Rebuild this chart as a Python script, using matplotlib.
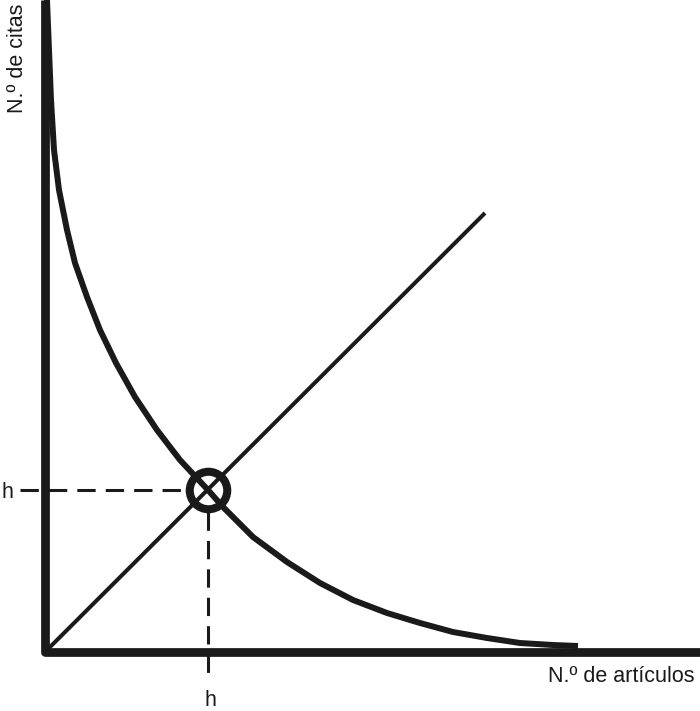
import matplotlib
matplotlib.use("Agg")
import matplotlib.pyplot as plt

plt.rcParams['font.family'] = ['Liberation Sans', 'DejaVu Sans']

# Decaying curve (citations per article, ranked)
curve_x = [2, 4, 6, 9, 14, 22, 30, 42, 55, 71, 90, 112, 135, 163, 178, 208,
           242, 275, 308, 342, 375, 408, 442, 475, 508, 533]
curve_y = [652, 602, 552, 502, 462, 422, 389, 355, 322, 289, 255, 222, 192, 162, 145, 115,
           90, 69, 52, 39, 29, 20, 14, 9, 7, 6]

# Diagonal line (citations = article rank)
diag_x = [0, 440]
diag_y = [0, 439]

# h-index point
h_x = 163
h_y = 162

x_max = 655
y_max = 652

fig = plt.figure(figsize=(7.0, 7.11), dpi=100)
ax = fig.add_axes([0, 0, 1, 1])
ax.set_xlim(-45, 655)
ax.set_ylim(-59, 652)
ax.axis('off')

ink = '#1a1a1a'

# Axes (L-shape)
ax.plot([0, 0, x_max], [y_max, 0, 0], color=ink, lw=6.3,
        solid_joinstyle='round', solid_capstyle='butt', zorder=3)

# Curve
ax.plot(curve_x, curve_y, color=ink, lw=4.3, solid_capstyle='butt',
        solid_joinstyle='round', zorder=2)

# Diagonal
ax.plot(diag_x, diag_y, color=ink, lw=2.9, solid_capstyle='butt', zorder=2)

# Dashed guide lines
ax.plot([-25, h_x - 22], [h_y, h_y], color=ink, lw=2.2,
        dashes=(6, 3.3), zorder=1)
ax.plot([h_x, h_x], [h_y - 22, -28], color=ink, lw=2.2,
        dashes=(6, 3.3), zorder=1)

# Circle marker
ax.plot([h_x], [h_y], marker='o', markersize=27, markerfacecolor='none',
        markeredgecolor=ink, markeredgewidth=5.8, zorder=4)

# Labels
fs = 15.5
ax.text(-43, h_y - 2, 'h', fontsize=fs, ha='left', va='center', color=ink)
ax.text(h_x + 2, -48, 'h', fontsize=fs, ha='center', va='center', color=ink)
ax.text(650, -25, 'N.º de artículos', fontsize=fs, ha='right', va='center', color=ink)
ax.text(-27, 648, 'N.º de citas', fontsize=fs, ha='center', va='top',
        rotation=90, color=ink)

fig.savefig('out.png', dpi=100)
